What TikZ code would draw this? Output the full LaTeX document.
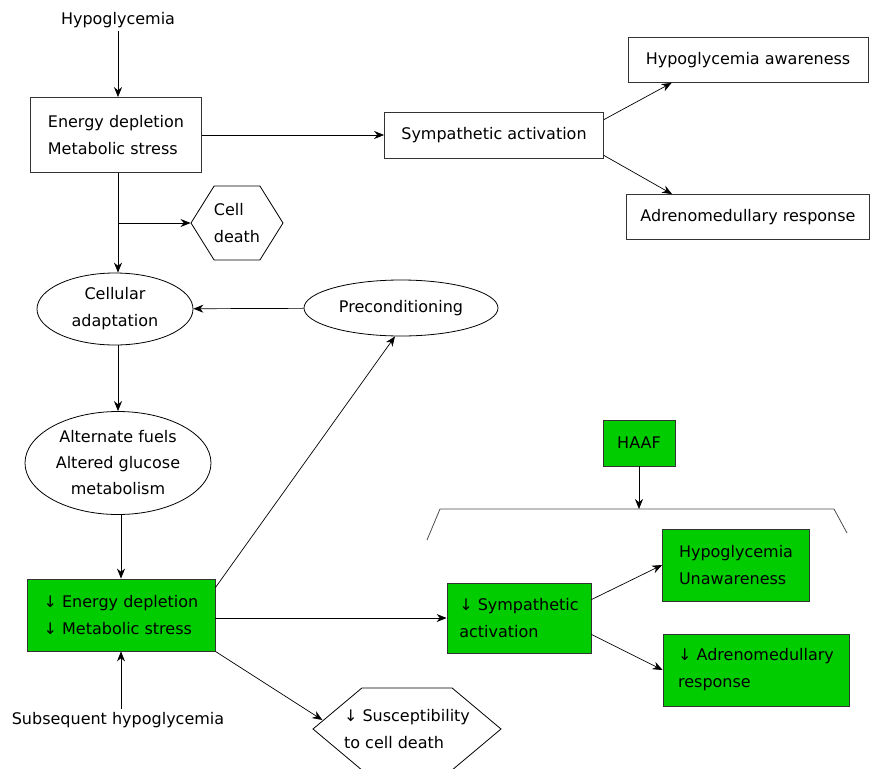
\documentclass[tikz,border=0pt]{standalone}
\usepackage{fontspec}
\setmainfont{DejaVu Sans}
\usetikzlibrary{arrows.meta,shapes.geometric,shapes.symbols}
\definecolor{haafgreen}{RGB}{0,204,0}
\begin{document}
\begin{tikzpicture}[x=1pt,y=-1pt,
    every node/.style={font=\fontsize{16}{27}\selectfont},
    box/.style={draw=black!80,line width=0.8pt,align=left,inner sep=0pt},
    greenbox/.style={box,fill=haafgreen},
    oval/.style={ellipse,draw,line width=0.8pt,align=center,inner sep=0pt},
    hexa/.style={signal,signal to=west and east,draw,line width=0.8pt,align=left,inner sep=0pt},
    arr/.style={-{Stealth[length=10pt,width=8pt]},line width=0.7pt}]
  \useasboundingbox (0,0) rectangle (871,769);
  % first episode
  \node (hypo) at (118,20) {Hypoglycemia};
  \node[box,minimum width=171,minimum height=75] (stress) at (116,135) {Energy depletion\\Metabolic stress};
  \node[box,minimum width=219,minimum height=46] (symp) at (494,135) {Sympathetic activation};
  \node[box,minimum width=240,minimum height=45] (aware) at (748,60) {Hypoglycemia awareness};
  \node[box,minimum width=243,minimum height=45] (adreno) at (748,217) {Adrenomedullary response};
  \node[hexa,minimum width=92,minimum height=74,signal pointer angle=116,inner xsep=-2pt] (death) at (237,223) {Cell\\death};
  % adaptation
  \node[oval,minimum width=156,minimum height=72] (adapt) at (115,309) {Cellular\\adaptation};
  \node[oval,minimum width=194,minimum height=56] (precond) at (401,308) {Preconditioning};
  \node[oval,minimum width=186,minimum height=103,font=\fontsize{16}{26}\selectfont] (fuels) at (118,463) {Alternate fuels\\Altered glucose\\metabolism};
  % subsequent episode
  \node[greenbox,minimum width=188,minimum height=72] (less) at (121,615) {↓ Energy depletion\\↓ Metabolic stress};
  \node[greenbox,minimum width=144,minimum height=70] (lsymp) at (519,618) {↓ Sympathetic\\activation};
  \node[hexa,minimum width=188,minimum height=82,signal pointer angle=80,inner xsep=-28pt] (suscept) at (407,729) {↓ Susceptibility\\to cell death};
  \node (subseq) at (118,720) {Subsequent hypoglycemia};
  \node[greenbox,minimum width=72,minimum height=46] (haaf) at (639,443) {HAAF};
  \node[greenbox,minimum width=147,minimum height=72] (unaware) at (736,565) {Hypoglycemia\\Unawareness};
  \node[greenbox,minimum width=186,minimum height=72] (ladreno) at (756,670) {↓ Adrenomedullary\\response};
  % bracket
  \coordinate (brl) at (427,540);
  \coordinate (brtl) at (440,509);
  \coordinate (brtop) at (639,509);
  \coordinate (brtr) at (834,509);
  \coordinate (brr) at (847,533);
  \draw[line width=0.8pt,black!70] (brl) -- (brtl) -- (brtr) -- (brr);
  % connectors
  \draw[arr] (hypo) -- (hypo |- stress.north);
  \draw[arr] (stress) -- (symp);
  \draw[arr] ([yshift=-8pt]symp.north east) -- ([xshift=44pt]aware.south west);
  \draw[arr] ([yshift=3pt]symp.south east) -- ([xshift=46pt]adreno.north west);
  \draw[arr] (hypo |- stress.south) -- (hypo |- adapt.north);
  \coordinate (fork) at (hypo |- death.west);
  \draw[arr] (fork) -- (death.west);
  \draw[arr] (precond) -- (adapt);
  \draw[arr] (hypo |- adapt.south) -- (hypo |- fuels.north);
  \draw[arr] (less.north |- fuels.south) -- (less.north);
  \draw[arr] ([yshift=-9pt]less.north east) -- ([xshift=-6pt]precond.south);
  \draw[arr] (less.east |- lsymp.west) -- (lsymp.west);
  \draw[arr] (less.south east) -- ([xshift=10pt,yshift=9pt]suscept.west);
  \draw[arr] (less.south |- subseq.north) -- (less.south);
  \draw[arr] (haaf) -- (brtop);
  \draw[arr] ([yshift=-17pt]lsymp.north east) -- (unaware.west);
  \draw[arr] ([yshift=19pt]lsymp.south east) -- (ladreno.west);
\end{tikzpicture}
\end{document}
